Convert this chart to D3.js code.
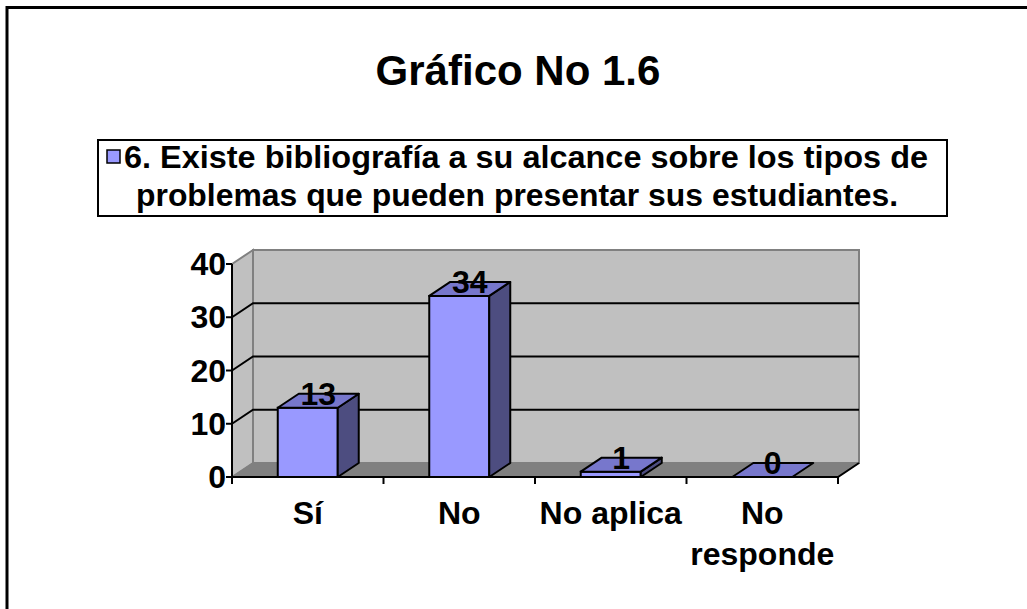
<!DOCTYPE html>
<html>
<head>
<meta charset="utf-8">
<script src="https://cdn.jsdelivr.net/npm/d3@7"></script>
<style>
	body { margin: 0; background: #fff; }
	text { font-family: "Liberation Sans", Arial, sans-serif; font-weight: bold; fill: #000; }
</style>
</head>
<body>
<svg></svg>
<script>
const categories = ["Sí", "No", "No aplica", "No responde"];
const categoryLines = [["Sí"], ["No"], ["No aplica"], ["No", "responde"]];
const values = [13, 34, 1, 0];
const yTicks = [0, 10, 20, 30, 40];
const titleText = "Gráfico No 1.6";
const legendLines = ["6. Existe bibliografía a su alcance sobre los tipos de",
	"problemas que pueden presentar sus estudiantes."];

const svgWidth = 1027;
const svgHeight = 609;
const svg = d3.select("svg")
				.attr("width", svgWidth)
				.attr("height", svgHeight);

// 3d depth offset
const dx = 21, dy = -14;
const fontSize = 32;

// outer frame (right and bottom edges fall off the picture)
svg.append("rect")
	.attr("x", 7).attr("y", 7.5)
	.attr("width", 1100).attr("height", 700)
	.attr("fill", "none").attr("stroke", "#000").attr("stroke-width", 3);

// title
svg.append("text")
	.text(titleText)
	.attr("x", 518).attr("y", 85)
	.attr("font-size", 42)
	.attr("text-anchor", "middle");

// legend
svg.append("rect")
	.attr("x", 98).attr("y", 140)
	.attr("width", 849).attr("height", 76)
	.attr("fill", "#fff").attr("stroke", "#000").attr("stroke-width", 2);
svg.append("rect")
	.attr("x", 107).attr("y", 150)
	.attr("width", 13).attr("height", 13)
	.attr("fill", "#9999FF").attr("stroke", "#000").attr("stroke-width", 1.5);
svg.selectAll(".legendText")
	.data(legendLines)
	.enter()
	.append("text")
	.attr("class", "legendText")
	.text(d => d)
	.attr("x", (d, i) => i == 0 ? 124 : 136)
	.attr("y", (d, i) => i == 0 ? 168 : 206)
	.attr("font-size", fontSize)
	.attr("textLength", (d, i) => i == 0 ? 804 : 762)
	.attr("lengthAdjust", "spacingAndGlyphs");

// scales
const xScale = d3.scaleBand()
				.domain(categories)
				.range([232, 838])
				.paddingInner(0.604)
				.paddingOuter(0.302);
const yScale = d3.scaleLinear()
				.domain([0, 40])
				.range([477, 264]);

const x0 = xScale.range()[0], x1 = xScale.range()[1];
const yTop = yScale(40), yBase = yScale(0);

const poly = pts => pts.map(p => p.join(",")).join(" ");

// back wall
svg.append("polygon")
	.attr("points", poly([[x0 + dx, yTop + dy], [x1 + dx, yTop + dy], [x1 + dx, yBase + dy], [x0 + dx, yBase + dy]]))
	.attr("fill", "#C0C0C0").attr("stroke", "#808080").attr("stroke-width", 2);
// left wall
svg.append("polygon")
	.attr("points", poly([[x0, yTop], [x0 + dx, yTop + dy], [x0 + dx, yBase + dy], [x0, yBase]]))
	.attr("fill", "#C0C0C0").attr("stroke", "#808080").attr("stroke-width", 2);
// floor
svg.append("polygon")
	.attr("points", poly([[x0, yBase], [x0 + dx, yBase + dy], [x1 + dx, yBase + dy], [x1, yBase]]))
	.attr("fill", "#808080").attr("stroke", "#808080").attr("stroke-width", 1);

// gridlines
svg.selectAll(".grid")
	.data(yTicks.filter(t => t > 0 && t < 40))
	.enter()
	.append("polyline")
	.attr("class", "grid")
	.attr("points", d => poly([[x0, yScale(d)], [x0 + dx, yScale(d) + dy], [x1 + dx, yScale(d) + dy]]))
	.attr("fill", "none").attr("stroke", "#000").attr("stroke-width", 2);

// bars
const bars = svg.selectAll(".bar")
	.data(categories.map((c, i) => ({cat: c, value: values[i]})))
	.enter()
	.append("g")
	.attr("class", "bar");

bars.each(function (d) {
	let g = d3.select(this);
	let bx0 = xScale(d.cat), bx1 = bx0 + xScale.bandwidth();
	let by = yScale(d.value);
	if (d.value > 0) {
		g.append("polygon") // front
			.attr("points", poly([[bx0, by], [bx1, by], [bx1, yBase], [bx0, yBase]]))
			.attr("fill", "#9999FF").attr("stroke", "#000").attr("stroke-width", 2);
		g.append("polygon") // side
			.attr("points", poly([[bx1, by], [bx1 + dx, by + dy], [bx1 + dx, yBase + dy], [bx1, yBase]]))
			.attr("fill", "#4D4D80").attr("stroke", "#000").attr("stroke-width", 2)
			.attr("stroke-linejoin", "round");
	}
	g.append("polygon") // top
		.attr("points", poly([[bx0, by], [bx0 + dx, by + dy], [bx1 + dx, by + dy], [bx1, by]]))
		.attr("fill", "#7777CC").attr("stroke", "#000").attr("stroke-width", 2)
		.attr("stroke-linejoin", "round");
	g.append("text")
		.text(d.value)
		.attr("x", bx0 + xScale.bandwidth() / 2 + dx / 2)
		.attr("y", by - 3)
		.attr("font-size", fontSize)
		.attr("text-anchor", "middle");
});

// axes
svg.append("line")
	.attr("x1", x0).attr("y1", yTop).attr("x2", x0).attr("y2", yBase)
	.attr("stroke", "#000").attr("stroke-width", 2);
svg.append("polyline")
	.attr("points", poly([[x0, yBase], [x1, yBase], [x1 + dx, yBase + dy]]))
	.attr("fill", "none").attr("stroke", "#000").attr("stroke-width", 2);

// y ticks and labels
svg.selectAll(".ytick")
	.data(yTicks)
	.enter()
	.append("line")
	.attr("class", "ytick")
	.attr("x1", x0 - 6).attr("x2", x0)
	.attr("y1", d => yScale(d)).attr("y2", d => yScale(d))
	.attr("stroke", "#000").attr("stroke-width", 2);
svg.selectAll(".ylabel")
	.data(yTicks)
	.enter()
	.append("text")
	.attr("class", "ylabel")
	.text(d => d)
	.attr("x", x0 - 6)
	.attr("y", d => yScale(d) + 11)
	.attr("font-size", fontSize)
	.attr("text-anchor", "end");

// category ticks and labels
let boundaries = d3.range(categories.length + 1).map(i => x0 + i * xScale.step());
svg.selectAll(".xtick")
	.data(boundaries)
	.enter()
	.append("line")
	.attr("class", "xtick")
	.attr("x1", d => d).attr("x2", d => d)
	.attr("y1", yBase).attr("y2", yBase + 7)
	.attr("stroke", "#000").attr("stroke-width", 2);

categories.forEach((c, i) => {
	categoryLines[i].forEach((line, j) => {
		svg.append("text")
			.text(line)
			.attr("x", xScale(c) + xScale.bandwidth() / 2)
			.attr("y", 524 + j * 41)
			.attr("font-size", fontSize)
			.attr("text-anchor", "middle");
	});
});
</script>
</body>
</html>
